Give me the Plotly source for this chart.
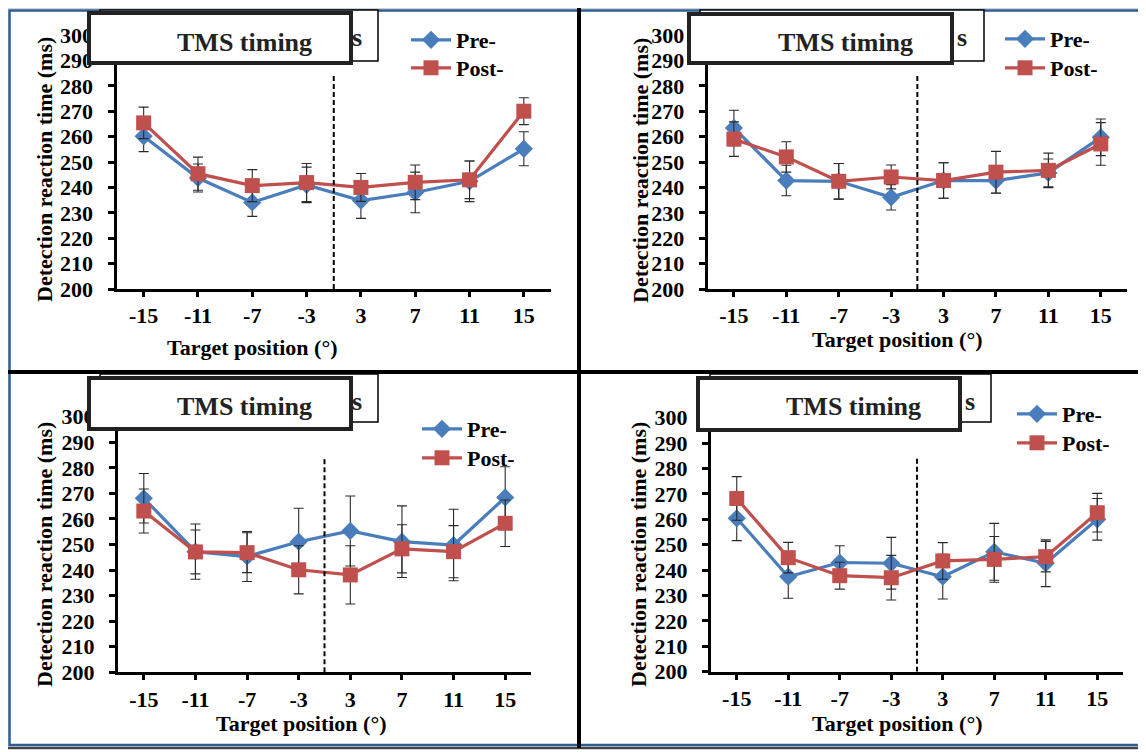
import plotly.graph_objects as go

# ---------------- data ----------------
positions = ["-15", "-11", "-7", "-3", "3", "7", "11", "15"]
y_ticks = [200, 210, 220, 230, 240, 250, 260, 270, 280, 290, 300]

p1_pre = [260.1, 243.7, 234.1, 241.0, 234.8, 238.0, 242.4, 255.2]
p1_pre_err = [6.0, 5.5, 5.5, 7.0, 7.0, 8.0, 8.0, 6.7]
p1_post = [265.4, 245.4, 240.7, 241.9, 240.0, 242.0, 243.0, 270.0]
p1_post_err = [6.2, 6.5, 6.3, 7.5, 5.5, 6.8, 7.4, 5.3]

p2_pre = [263.4, 242.7, 242.4, 236.1, 242.7, 242.7, 245.7, 259.7]
p2_pre_err = [7.0, 6.0, 7.0, 5.0, 7.0, 5.0, 5.5, 7.2]
p2_post = [259.0, 252.0, 242.4, 244.1, 242.7, 246.0, 246.7, 257.1]
p2_post_err = [6.8, 6.0, 7.0, 4.7, 7.0, 8.2, 6.8, 8.4]

p3_pre = [268.1, 247.2, 245.3, 251.1, 255.3, 251.1, 249.8, 268.4]
p3_pre_err = [9.7, 10.8, 9.8, 13.1, 13.7, 14.0, 14.0, 12.0]
p3_post = [263.1, 247.1, 246.8, 240.1, 238.1, 248.3, 247.2, 258.3]
p3_post_err = [8.6, 8.6, 7.8, 9.4, 11.4, 9.4, 10.2, 9.1]

p4_pre = [260.4, 237.4, 243.0, 242.7, 237.4, 247.2, 242.7, 260.0]
p4_pre_err = [8.8, 8.5, 6.6, 10.2, 8.8, 11.2, 9.2, 8.2]
p4_post = [268.2, 244.9, 237.8, 237.0, 243.6, 244.2, 245.3, 262.6]
p4_post_err = [8.6, 6.0, 5.3, 8.8, 7.2, 9.0, 6.0, 7.6]

divider_top = 284  # top of the dashed midline (ms)

# ---------------- layout helpers ----------------
W, H = 1146, 752
OFF = 8  # page (body) margin of the html page
FONT = "Liberation Serif"
BLUE = "#4a7dbb"
RED = "#c0504d"


def fx(px):
    return (px - OFF) / W


def fy(py):
    return 1 - (py - OFF) / H


panels = [
    dict(pre=p1_pre, pre_err=p1_pre_err, post=p1_post, post_err=p1_post_err,
         box=(116.5, 551, 289, 35), ytitle=(44, 170), xtitle=(252, 347),
         legend=(414, 39, 67), tms=(87, 353, 11, 65), tms_text=(244.5, 42),
         thin=(100, 378, 10, 61), s=(357, 38)),
    dict(pre=p2_pre, pre_err=p2_pre_err, post=p2_post, post_err=p2_post_err,
         box=(707.7, 1127, 289, 35), ytitle=(640, 171), xtitle=(897, 340),
         legend=(1008, 38, 67), tms=(687, 954, 12, 65), tms_text=(845, 42),
         thin=(700, 984, 10, 61), s=(962, 38)),
    dict(pre=p3_pre, pre_err=p3_pre_err, post=p3_post, post_err=p3_post_err,
         box=(118, 531, 672.3, 416.7), ytitle=(44, 555), xtitle=(301, 723),
         legend=(425, 428, 457), tms=(87, 353, 376, 431), tms_text=(244.5, 406),
         thin=(100, 378, 374, 422), s=(357, 401)),
    dict(pre=p4_pre, pre_err=p4_pre_err, post=p4_post, post_err=p4_post_err,
         box=(711, 1123, 671.7, 417.7), ytitle=(638, 555), xtitle=(897, 723),
         legend=(1020, 413, 442), tms=(696, 962, 376, 432), tms_text=(853, 406),
         thin=(710, 991, 374, 422), s=(970, 401)),
]

fig = go.Figure()
layout = dict(
    width=W, height=H, margin=dict(l=0, r=0, t=0, b=0, autoexpand=False),
    paper_bgcolor="white", plot_bgcolor="rgba(0,0,0,0)",
    font=dict(family=FONT, color="black"),
)
shapes = []
annotations = []
xs = list(range(len(positions)))

LEG_DX = 8
LEG_DY = 20

for i, p in enumerate(panels):
    n = i + 1
    xa = "x" if n == 1 else f"x{n}"
    ya = "y" if n == 1 else f"y{n}"
    xkey = "xaxis" if n == 1 else f"xaxis{n}"
    ykey = "yaxis" if n == 1 else f"yaxis{n}"
    lg_pre = "legend" if n == 1 else f"legend{n}"
    lg_post = f"legend{n + 4}"
    x0, x1, yb, yt = p["box"]

    fig.add_trace(go.Scatter(
        x=xs, y=p["pre"], xaxis=xa, yaxis=ya, name="Pre-", legend=lg_pre,
        mode="lines+markers", line=dict(color=BLUE, width=3.2),
        marker=dict(symbol="diamond", size=14, color=BLUE),
        error_y=dict(type="data", array=p["pre_err"], color="#2a2a2a", thickness=1.1, width=5),
        cliponaxis=False,
    ))
    fig.add_trace(go.Scatter(
        x=xs, y=p["post"], xaxis=xa, yaxis=ya, name="Post-", legend=lg_post,
        mode="lines+markers", line=dict(color=RED, width=3.2),
        marker=dict(symbol="square", size=15, color=RED),
        error_y=dict(type="data", array=p["post_err"], color="#2a2a2a", thickness=1.1, width=5),
        cliponaxis=False,
    ))

    layout[xkey] = dict(
        domain=[fx(x0), fx(x1)], anchor=ya, range=[-0.5, 7.5],
        tickmode="array", tickvals=xs, ticktext=positions,
        showline=True, linecolor="black", linewidth=3,
        ticks="outside", ticklen=5, tickwidth=2.5, tickcolor="black",
        showgrid=False, zeroline=False,
        tickfont=dict(family=FONT, size=22, weight="bold", color="black"),
        ticklabelstandoff=0,
    )
    layout[ykey] = dict(
        domain=[fy(yb), fy(yt)], anchor=xa, range=[200, 300],
        tickmode="array", tickvals=y_ticks,
        showline=True, linecolor="black", linewidth=3,
        ticks="outside", ticklen=6, tickwidth=2.5, tickcolor="black",
        showgrid=False, zeroline=False,
        tickfont=dict(family=FONT, size=22, weight="bold", color="black"),
        ticklabelstandoff=10,
    )
    # overlay axis to draw the inner half of the crossing x ticks
    okey = f"xaxis{n + 4}"
    layout[okey] = dict(
        domain=[fx(x0), fx(x1)], anchor=ya, overlaying=xa, range=[-0.5, 7.5],
        tickmode="array", tickvals=xs, showticklabels=False,
        showline=False, ticks="inside", ticklen=5, tickwidth=2.5, tickcolor="black",
        showgrid=False, zeroline=False,
    )

    lx, ly_pre, ly_post = p["legend"]
    for key, ly in ((lg_pre, ly_pre), (lg_post, ly_post)):
        layout[key] = dict(
            x=fx(lx - LEG_DX), y=fy(ly - LEG_DY), xanchor="left", yanchor="top",
            bgcolor="rgba(0,0,0,0)", borderwidth=0,
            font=dict(family=FONT, size=22, weight="bold", color="black"),
            itemwidth=40,
        )

    # dashed midline between -3 and 3
    shapes.append(dict(type="line", xref=xa, yref=ya, x0=3.5, x1=3.5, y0=200, y1=divider_top,
                       line=dict(color="black", width=2, dash="5px,3px"), layer="above"))

    # axis titles
    tx, ty = p["ytitle"]
    annotations.append(dict(text="Detection reaction time (ms)", xref="paper", yref="paper",
                            x=fx(tx), y=fy(ty), textangle=-90, showarrow=False,
                            xanchor="center", yanchor="middle",
                            font=dict(family=FONT, size=22, weight="bold", color="black")))
    tx, ty = p["xtitle"]
    annotations.append(dict(text="Target position (°)", xref="paper", yref="paper",
                            x=fx(tx), y=fy(ty), showarrow=False,
                            xanchor="center", yanchor="middle",
                            font=dict(family=FONT, size=22, weight="bold", color="black")))

    # underlying thin box with partially hidden title
    a0, a1, b0, b1 = p["thin"]
    shapes.append(dict(type="rect", xref="paper", yref="paper",
                       x0=fx(a0), x1=fx(a1), y0=fy(b1), y1=fy(b0),
                       line=dict(color="black", width=1.5), fillcolor="white", layer="above"))
    sx, sy = p["s"]
    annotations.append(dict(text="s", xref="paper", yref="paper", x=fx(sx), y=fy(sy),
                            showarrow=False, xanchor="center", yanchor="middle",
                            font=dict(family=FONT, size=26, weight="bold", color="#222")))
    # thick "TMS timing" box
    a0, a1, b0, b1 = p["tms"]
    bw = 4
    annotations.append(dict(text=" ", xref="paper", yref="paper",
                            x=fx((a0 + a1) / 2), y=fy((b0 + b1) / 2),
                            xanchor="center", yanchor="middle", showarrow=False,
                            width=(a1 - a0) - 2 * bw, height=(b1 - b0) - 2 * bw,
                            borderpad=0, borderwidth=bw, bordercolor="#222",
                            bgcolor="white"))
    tx, ty = p["tms_text"]
    annotations.append(dict(text="TMS timing", xref="paper", yref="paper",
                            x=fx(tx), y=fy(ty), showarrow=False,
                            xanchor="center", yanchor="middle",
                            font=dict(family=FONT, size=26, weight="bold", color="#222")))

# outer frame and panel dividers
shapes.append(dict(type="rect", xref="paper", yref="paper", x0=fx(6), x1=fx(1145),
                   y0=fy(748), y1=fy(7), line=dict(color="#444", width=2.5), layer="below"))
shapes.append(dict(type="rect", xref="paper", yref="paper", x0=fx(9.5), x1=fx(1142),
                   y0=fy(745), y1=fy(10.5), line=dict(color="#2d5d90", width=2.5), layer="below"))
shapes.append(dict(type="line", xref="paper", yref="paper", x0=fx(579), x1=fx(579),
                   y0=fy(748), y1=fy(7), line=dict(color="black", width=4), layer="below"))
shapes.append(dict(type="line", xref="paper", yref="paper", x0=fx(6), x1=fx(1145),
                   y0=fy(372), y1=fy(372), line=dict(color="black", width=4), layer="below"))

layout["shapes"] = shapes
layout["annotations"] = annotations
layout["showlegend"] = True
fig.update_layout(**layout)

fig.write_html("out.html")
